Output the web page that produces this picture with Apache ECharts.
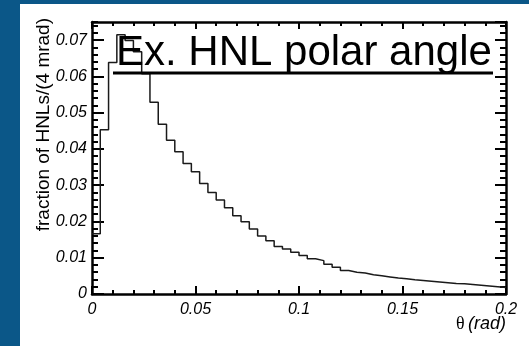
<!DOCTYPE html>
<html>
<head>
<meta charset="utf-8">
<script src="https://cdn.jsdelivr.net/npm/echarts@6/dist/echarts.min.js"></script>
<style>
html,body{margin:0;padding:0;background:#0b5788;}
#chart{width:529px;height:346px;}
</style>
</head>
<body>
<div id="chart"></div>
<script>
// Histogram: fraction of HNLs per 4 mrad bin of polar angle theta (rad)
const binWidth = 0.004;
const thetaMin = 0;
const thetaMax = 0.2;
const fractions = [
  0.0166, 0.0453, 0.0638, 0.0715, 0.0699, 0.0668, 0.0607, 0.0529, 0.0468, 0.0424,
  0.0392, 0.0360, 0.0337, 0.0305, 0.0280, 0.0259, 0.0238, 0.0216, 0.0199, 0.0179,
  0.0160, 0.0147, 0.0131, 0.0124, 0.0115, 0.0106, 0.0097, 0.0092, 0.0082, 0.0074,
  0.0065, 0.0060, 0.0058, 0.0053, 0.0050, 0.0047, 0.0044, 0.0042, 0.0039, 0.0037,
  0.0035, 0.0033, 0.0031, 0.0029, 0.0028, 0.0026, 0.0024, 0.0022, 0.0020, 0.0018
];
const yMax = 0.075;
const xMajor = 0.05, xMinor = 0.01;
const yMajor = 0.01, yMinor = 0.002;
const titleText = 'Ex. HNL polar angle';
const yTitle = 'fraction of HNLs/(4 mrad)';

const stepData = fractions.map((v, i) => [thetaMin + i * binWidth, v]);
stepData.push([thetaMax, fractions[fractions.length - 1]]);

const chart = echarts.init(document.getElementById('chart'), null, {renderer: 'canvas'});
const frame = {show: true, onZero: false, lineStyle: {color: '#000', width: 2.5}};
const noLine = {show: false, onZero: false};
const labelStyle = {fontFamily: 'Liberation Sans', fontStyle: 'italic', fontSize: 16, color: '#000'};
function xAx(pos, interval, len, showLabel, line) {
  return {
    type: 'value', position: pos, min: thetaMin, max: thetaMax, interval: interval,
    axisLine: line ? frame : noLine,
    axisTick: {show: true, inside: true, length: len, lineStyle: {color: '#000', width: 2}},
    axisLabel: showLabel ? Object.assign({show: true, margin: 8}, labelStyle) : {show: false},
    splitLine: {show: false}
  };
}
function yAx(pos, interval, len, showLabel, line) {
  return {
    type: 'value', position: pos, min: 0, max: yMax, interval: interval, offset: 0,
    axisLine: line ? frame : noLine,
    axisTick: {show: true, inside: true, length: len, lineStyle: {color: '#000', width: 2}},
    axisLabel: showLabel ? Object.assign({show: true, margin: 5, showMaxLabel: false}, labelStyle) : {show: false},
    splitLine: {show: false}
  };
}
chart.setOption({
  backgroundColor: '#0b5788',
  animation: false,
  grid: {left: 92, right: 23, top: 22, bottom: 52},
  xAxis: [
    xAx('bottom', xMajor, 8, true, true),
    xAx('bottom', xMinor, 4, false, false),
    xAx('top', xMajor, 7, false, true),
    xAx('top', xMinor, 4, false, false)
  ],
  yAxis: [
    yAx('left', yMajor, 12, true, true),
    yAx('left', yMinor, 6, false, false),
    yAx('right', yMajor, 11, false, true),
    yAx('right', yMinor, 6, false, false)
  ],
  graphic: [
    {type: 'rect', z: -10, shape: {x: 20, y: 4, width: 509, height: 342}, style: {fill: '#fff'}, silent: true},
    {type: 'text', z: 10, x: 116, y: 74, style: {text: titleText, font: '42px "Liberation Sans"', fill: '#000', textAlign: 'left', textVerticalAlign: 'bottom'}},
    {type: 'line', z: 10, shape: {x1: 113, y1: 73, x2: 493, y2: 73}, style: {stroke: '#000', lineWidth: 3}},
    {type: 'text', z: 10, x: 43.5, y: 18, rotation: Math.PI / 2,
      style: {text: yTitle, font: '19px "Liberation Sans"', fill: '#000', textAlign: 'right', textVerticalAlign: 'middle'}},
    {type: 'text', z: 10, x: 506, y: 324,
      style: {text: '{t|θ} {r|(rad)}', textAlign: 'right', textVerticalAlign: 'middle',
        rich: {t: {fontFamily: 'Liberation Serif', fontSize: 18, color: '#000'},
               r: {fontFamily: 'Liberation Sans', fontStyle: 'italic', fontSize: 18, color: '#000'}}}}
  ],
  series: [{
    type: 'line', xAxisIndex: 0, yAxisIndex: 0, step: 'end', data: stepData,
    showSymbol: false, symbol: 'none',
    lineStyle: {color: '#1a1a1a', width: 1.5}, z: 5
  }]
});
</script>
</body>
</html>
